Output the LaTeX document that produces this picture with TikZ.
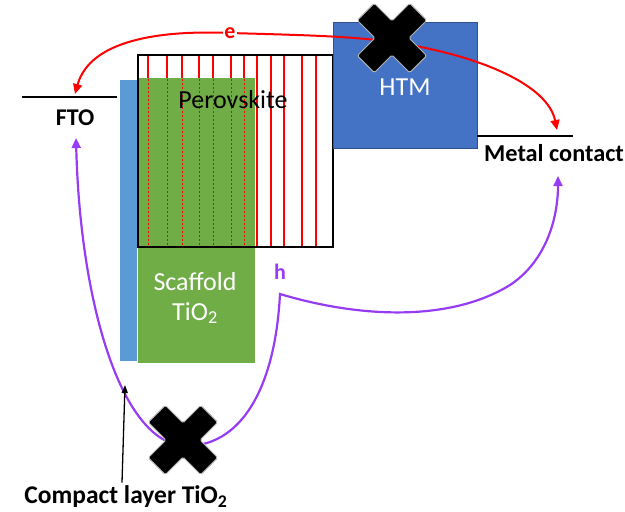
\documentclass[tikz,border=0pt]{standalone}
\usepackage{fontspec}
\setmainfont{Carlito}
\usetikzlibrary{arrows.meta}
\definecolor{pgreen}{RGB}{112,173,71}
\definecolor{cblue}{RGB}{91,155,213}
\definecolor{htmblue}{RGB}{68,114,196}
\definecolor{htmedge}{RGB}{47,82,143}
\definecolor{hpurple}{RGB}{150,60,245}
\definecolor{ered}{RGB}{255,0,0}
\tikzset{
  bigtext/.style={font=\fontsize{26}{30}\selectfont},
  boldtext/.style={font=\fontsize{25.5}{30}\selectfont\bfseries},
  box/.style={rectangle, inner sep=0pt, outer sep=0pt},
  redline/.style={ered, line width=1.6pt},
  reddot/.style={ered, line width=1pt, dash pattern=on 2pt off 2pt},
  levelline/.style={black, line width=2pt},
  etip/.style={ered, line width=2pt, {Triangle[length=10pt,width=9pt]}-{Triangle[length=10pt,width=9pt]}},
  htip/.style={hpurple, line width=2.2pt, {Triangle[length=10pt,width=9pt]}-{Triangle[length=10pt,width=9pt]}},
  crossmark/.pic={
    \draw[fill=black, draw=gray!60, line width=1pt, rounded corners=1.5pt, rotate=45]
      (12,37) -- (12,12) -- (37,12) -- (37,-12) -- (12,-12) -- (12,-37) --
      (-12,-37) -- (-12,-12) -- (-37,-12) -- (-37,12) -- (-12,12) -- (-12,37) -- cycle;
  }
}
\begin{document}
\begin{tikzpicture}[x=1pt,y=-1pt]
\useasboundingbox (0,0) rectangle (625,512);

% perovskite red lines (solid)
\foreach \x in {148,167,182,199,213,231,244,257,271,284,302,316}
  \draw[redline] (\x,55) -- (\x,247);

% scaffold green
\node[box, fill=pgreen, minimum width=117pt, minimum height=285pt] (scaf) at (196.5,220.5) {};
\foreach \x in {148,167,182,199,213,231,244}
  \draw[reddot] (\x,79) -- (\x,246);

% compact layer
\node[box, fill=cblue, minimum width=17pt, minimum height=281pt] (comp) at (128.5,220.5) {};

% perovskite outline
\node[box, draw=black, line width=2pt, minimum width=195pt, minimum height=192pt] (pero) at (235.5,151) {};

% HTM
\node[box, fill=htmblue, draw=htmedge, line width=1pt, minimum width=144pt, minimum height=126pt] (htm) at (405,85) {};
\node[bigtext, text=white] (htmt) at (405,87) {HTM};

% texts
\node[bigtext] (perot) at (233,100) {Perovskite};
\node[bigtext, text=white, align=center] (scaft) at (195,298) {Scaffold\\TiO\textsubscript{2}};

% FTO
\coordinate (ftoL) at (22,97);
\coordinate (ftoR) at (117,97);
\draw[levelline] (ftoL) -- (ftoR);
\node[font=\fontsize{24}{30}\selectfont\bfseries] (fto) at (75,118) {FTO};

% Metal contact
\coordinate (mcL) at (477,136);
\coordinate (mcR) at (573,136);
\draw[levelline] (mcL) -- (mcR);
\node[font=\fontsize{24.3}{30}\selectfont\bfseries, anchor=west, inner sep=0pt] (mct) at (484,153) {Metal contact};

% electron path
\coordinate (ftoe) at (75,94);
\coordinate (mce) at (557,130);
\draw[etip] (ftoe) .. controls (90,40) and (160,30) .. (230,33)
  .. controls (300,35) and (350,36) .. (392,42)
  .. controls (480,55) and (548,85) .. (mce);
\node[fill=white, text=ered, font=\fontsize{22}{24}\selectfont\bfseries, inner sep=1.5pt] (elab) at (230,33) {e};

% hole path
\coordinate (ftoh) at (76,138);
\coordinate (mch) at (558,176);
\draw[htip] (ftoh) .. controls (80,300) and (120,440) .. (183,446)
  .. controls (240,448) and (275,390) .. (280,294)
  .. controls (360,318) and (450,322) .. (510,285)
  .. controls (545,262) and (558,220) .. (mch);
\node[text=hpurple, font=\fontsize{22}{24}\selectfont\bfseries] (hlab) at (280,272) {h};

% crosses
\pic at (392,38) {crossmark};
\pic at (183,440) {crossmark};

% compact layer label
\node[boldtext] (cl) at (126,497) {Compact layer TiO\textsubscript{2}};
\coordinate (cltip) at (125,385);
\draw[black, line width=1.3pt, -{Triangle[length=8pt,width=6pt]}] ([xshift=-4pt]cl.north) -- (cltip);
\end{tikzpicture}
\end{document}
